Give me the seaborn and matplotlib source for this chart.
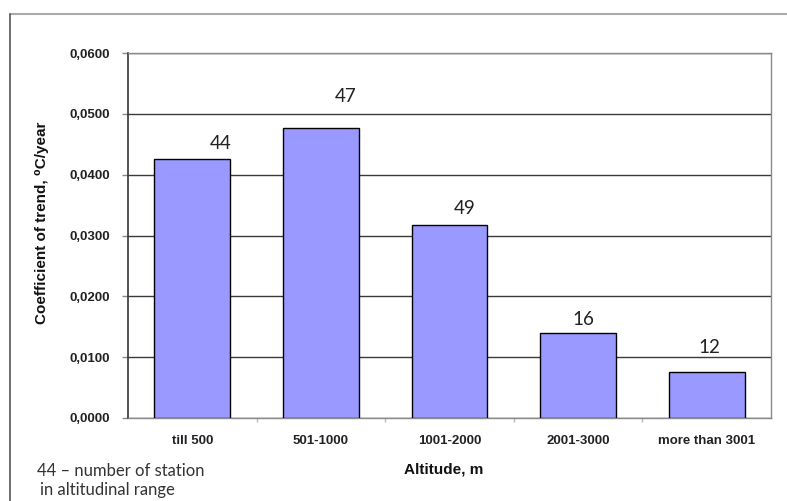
import matplotlib
matplotlib.use("Agg")
import matplotlib.pyplot as plt
from matplotlib.lines import Line2D
from matplotlib.ticker import FixedLocator, FuncFormatter
import seaborn as sns
import pandas as pd

# Altitude classes and mean trend coefficient (degC/year)
altitude = ["till 500", "501-1000", "1001-2000", "2001-3000", "more than 3001"]
trend = [0.0426, 0.0477, 0.0317, 0.0139, 0.0076]
# number of stations in each altitude class
stations = [44, 47, 49, 16, 12]
# label placement relative to the bar (x shift in category units, y shift in data units)
label_dx = [0.22, 0.19, 0.12, 0.04, 0.02]
label_dy = [0.0026, 0.0051, 0.0027, 0.0023, 0.0040]

df = pd.DataFrame({"altitude": altitude, "trend": trend})

sns.set_theme(style="white")
plt.rcParams["font.family"] = ["Liberation Sans", "DejaVu Sans"]

fig = plt.figure(figsize=(7.87, 5.01), dpi=100)
ax = fig.add_axes([128 / 787, 1 - 418 / 501, (771 - 128) / 787, (418 - 53) / 501])

sns.barplot(data=df, x="altitude", y="trend", ax=ax, color="#9999FF",
            saturation=1, width=0.59, edgecolor="black", linewidth=1.0, zorder=3)

ax.set_ylim(0, 0.06)
ax.set_xlim(-0.5, len(altitude) - 0.5)
ax.yaxis.set_major_locator(FixedLocator([0, 0.01, 0.02, 0.03, 0.04, 0.05, 0.06]))
ax.yaxis.set_major_formatter(FuncFormatter(lambda v, p: f"{v:.4f}".replace(".", ",")))
ax.grid(axis="y", color="#3a3a3a", linewidth=1.0, zorder=0)
ax.set_axisbelow(True)

for side in ["top", "right", "bottom"]:
    ax.spines[side].set_color("#8a8a8a")
    ax.spines[side].set_linewidth(1.0)
ax.spines["left"].set_color("#333333")
ax.spines["left"].set_linewidth(1.2)

ax.tick_params(axis="y", which="major", left=True, length=4, width=1, color="#8a8a8a",
               labelsize=9.5, labelcolor="#222222", pad=9)
ax.tick_params(axis="x", which="major", bottom=False, labelsize=9.5, labelcolor="#222222", pad=6)
ax.xaxis.set_minor_locator(FixedLocator([i + 0.5 for i in range(len(altitude) - 1)]))
ax.tick_params(axis="x", which="minor", bottom=True, length=3, width=1, color="#bbbbbb")
for lab in ax.get_yticklabels() + ax.get_xticklabels():
    lab.set_fontweight("bold")

ax.set_xlabel("")
ax.set_ylabel("")

for i, (n, v) in enumerate(zip(stations, trend)):
    ax.text(i + label_dx[i], v + label_dy[i], str(n), ha="center", va="center",
            fontsize=13.5, color="#222222", family=["Lato", "DejaVu Sans"])

fig.text(444 / 787, 1 - 469 / 501, "Altitude, m", ha="center", va="center",
         fontsize=11, fontweight="bold", color="#111111")
fig.text(42 / 787, 1 - 223 / 501, "Coefficient of trend, \u2070C/year", ha="center",
         va="center", rotation=90, fontsize=11, fontweight="bold", color="#111111")
fig.text(37 / 787, 1 - 471 / 501, "44 \u2013 number of station", ha="left", va="center",
         fontsize=12, color="#333333", family=["Lato", "DejaVu Sans"])
fig.text(40 / 787, 1 - 490 / 501, "in altitudinal range", ha="left", va="center",
         fontsize=12, color="#333333", family=["Lato", "DejaVu Sans"])

# outer chart frame
fig.add_artist(Line2D([10 / 787, 1.0], [1 - 14 / 501, 1 - 14 / 501], color="#aaaaaa",
                      linewidth=1.5, transform=fig.transFigure))
fig.add_artist(Line2D([10 / 787, 10 / 787], [1 - 14 / 501, 0.0], color="#555555",
                      linewidth=1.2, transform=fig.transFigure))

fig.savefig("out.png", dpi=100)
